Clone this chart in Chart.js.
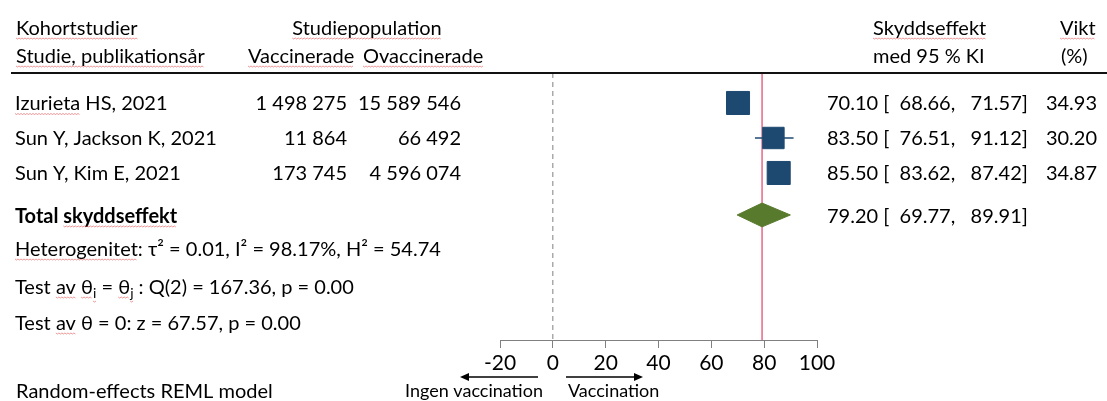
<!DOCTYPE html>
<html>
<head>
<meta charset="utf-8">
<script src="https://cdn.jsdelivr.net/npm/chart.js@4"></script>
<style>
  html, body { margin: 0; padding: 0; background: #fff; }
  #wrap { width: 1107px; height: 401px; }
</style>
</head>
<body>
<div id="wrap"><canvas id="forest" width="1107" height="401"></canvas></div>
<script>
// Data
const studies = ['Izurieta HS, 2021', 'Sun Y, Jackson K, 2021', 'Sun Y, Kim E, 2021'];
const vaccinated = ['1 498 275', '11 864', '173 745'];
const unvaccinated = ['15 589 546', '66 492', '4 596 074'];
const effect = [70.10, 83.50, 85.50];
const ciLow = [68.66, 76.51, 83.62];
const ciHigh = [71.57, 91.12, 87.42];
const weight = [34.93, 30.20, 34.87];
const totalEffect = 79.20;
const totalLow = 69.77;
const totalHigh = 89.91;
const xTicks = [-20, 0, 20, 40, 60, 80, 100];

// Row positions on the y scale (top = 0, reversed)
const rowY = [1, 2, 3];
const totalY = 4.2;
const yMin = 0.143;
const yMax = 7.773;

const FONT = 'Lato, "Open Sans", sans-serif';
const NAVY = '#1d4971';
const GREEN = '#587a2c';
const RED = '#e2436a';

const fmt = v => v.toFixed(2);

// Small helpers for the text columns
function squiggle(ctx, x1, x2, y) {
  ctx.save();
  ctx.strokeStyle = 'rgba(225,70,70,0.7)';
  ctx.lineWidth = 0.8;
  ctx.beginPath();
  let i = 0;
  for (let x = x1; x <= x2; x += 1.5, i++) {
    const yy = y + (i % 2 ? 1 : 0);
    if (i === 0) ctx.moveTo(x, yy); else ctx.lineTo(x, yy);
  }
  ctx.stroke();
  ctx.restore();
}

function drawText(ctx, text, x, y, opts = {}) {
  ctx.font = opts.font || `20px ${FONT}`;
  ctx.fillStyle = '#000';
  ctx.textBaseline = 'alphabetic';
  const w = ctx.measureText(text).width;
  let x0 = x;
  if (opts.align === 'right') x0 = x - w;
  if (opts.align === 'center') x0 = x - w / 2;
  ctx.textAlign = 'left';
  ctx.fillText(text, x0, y);
  (opts.marks || []).forEach(m => {
    const idx = text.indexOf(m);
    if (idx < 0) return;
    const mx = x0 + ctx.measureText(text.slice(0, idx)).width;
    squiggle(ctx, mx, mx + ctx.measureText(m).width, y + 3);
  });
}

function drawRich(ctx, segs, x, y) {
  let cx = x;
  segs.forEach(sg => {
    ctx.font = sg.sub ? `14px ${FONT}` : `20px ${FONT}`;
    ctx.fillStyle = '#000';
    ctx.textAlign = 'left';
    ctx.textBaseline = 'alphabetic';
    const dy = sg.sub ? 4 : 0;
    ctx.fillText(sg.t, cx, y + dy);
    const w = ctx.measureText(sg.t).width;
    if (sg.mark) squiggle(ctx, cx, cx + w, y + 3 + dy);
    cx += w;
  });
}

function arrow(ctx, x1, x2, y) {
  const dir = Math.sign(x2 - x1);
  ctx.save();
  ctx.strokeStyle = '#000';
  ctx.fillStyle = '#000';
  ctx.lineWidth = 1.5;
  ctx.beginPath();
  ctx.moveTo(x1, y);
  ctx.lineTo(x2 - dir * 6, y);
  ctx.stroke();
  ctx.beginPath();
  ctx.moveTo(x2, y);
  ctx.lineTo(x2 - dir * 9, y - 4);
  ctx.lineTo(x2 - dir * 9, y + 4);
  ctx.closePath();
  ctx.fill();
  ctx.restore();
}

const textPlugin = {
  id: 'forestText',
  afterDraw(chart) {
    const ctx = chart.ctx;
    const ys = chart.scales.y;

    // Header
    drawText(ctx, 'Kohortstudier', 16, 35, { marks: ['Kohortstudier'] });
    drawText(ctx, 'Studiepopulation', 367, 35, { align: 'center', marks: ['Studiepopulation'] });
    drawText(ctx, 'Studie, publikationsår', 16, 63, { marks: ['Studie, publikationsår'] });
    drawText(ctx, 'Vaccinerade', 248, 63, { marks: ['Vaccinerade'] });
    drawText(ctx, 'Ovaccinerade', 363, 63, { marks: ['Ovaccinerade'] });
    drawText(ctx, 'Skyddseffekt', 873, 35, { marks: ['Skyddseffekt'] });
    drawText(ctx, 'med 95 % KI', 873, 63);
    drawText(ctx, 'Vikt', 1060, 35, { marks: ['Vikt'] });
    drawText(ctx, '(%)', 1061, 63);

    ctx.save();
    ctx.strokeStyle = '#111';
    ctx.lineWidth = 2;
    ctx.beginPath();
    ctx.moveTo(11, 73);
    ctx.lineTo(1107, 73);
    ctx.stroke();
    ctx.restore();

    // Study rows
    studies.forEach((s, i) => {
      const y = ys.getPixelForValue(rowY[i]) + 7.5;
      drawText(ctx, s, 15, y, { marks: i === 0 ? ['Izurieta'] : [] });
      drawText(ctx, vaccinated[i], 347, y, { align: 'right' });
      drawText(ctx, unvaccinated[i], 461, y, { align: 'right' });
      drawText(ctx, `${fmt(effect[i])} [  ${fmt(ciLow[i])},   ${fmt(ciHigh[i])}]`, 827, y);
      drawText(ctx, fmt(weight[i]), 1097, y, { align: 'right' });
    });

    const ty = ys.getPixelForValue(totalY) + 8;
    drawText(ctx, 'Total skyddseffekt', 15, ty, { font: `bold 20px ${FONT}`, marks: ['skyddseffekt'] });
    drawText(ctx, `${fmt(totalEffect)} [  ${fmt(totalLow)},   ${fmt(totalHigh)}]`, 827, ty);

    // Statistics
    drawText(ctx, 'Heterogenitet: τ² = 0.01, I² = 98.17%, H² = 54.74', 15, 256, { marks: ['Heterogenitet'] });
    drawRich(ctx, [
      { t: 'Test ' }, { t: 'av', mark: true }, { t: ' ' }, { t: 'θ', mark: true }, { t: 'i', sub: true, mark: true },
      { t: ' = ' }, { t: 'θ', mark: true }, { t: 'j', sub: true, mark: true }, { t: ' : Q(2) = 167.36, p = 0.00' }
    ], 15, 294);
    drawRich(ctx, [{ t: 'Test ' }, { t: 'av', mark: true }, { t: ' θ = 0: z = 67.57, p = 0.00' }], 15, 330);
    drawText(ctx, 'Random-effects REML model', 16, 398);

    // Direction arrows
    arrow(ctx, 538, 460, 377);
    arrow(ctx, 566, 643, 377);
    drawText(ctx, 'Ingen vaccination', 474, 397, { align: 'center', font: `18px ${FONT}` });
    drawText(ctx, 'Vaccination', 568, 397, { font: `18px ${FONT}` });
  }
};

const maxW = Math.max(...weight);

const datasets = [
  {
    type: 'scatter',
    data: effect.map((e, i) => ({ x: e, y: rowY[i] })),
    pointStyle: 'rect',
    pointRadius: weight.map(w => 16.3 * Math.sqrt(w / maxW)),
    backgroundColor: NAVY,
    borderColor: NAVY,
    borderWidth: 1
  },
  {
    type: 'line',
    data: [
      { x: totalLow, y: totalY },
      { x: totalEffect, y: totalY - 0.34 },
      { x: totalHigh, y: totalY },
      { x: totalEffect, y: totalY + 0.34 },
      { x: totalLow, y: totalY }
    ],
    borderColor: GREEN,
    backgroundColor: GREEN,
    borderWidth: 1,
    fill: 'shape',
    pointRadius: 0,
    tension: 0
  },
  ...studies.map((s, i) => ({
    type: 'line',
    data: [{ x: ciLow[i], y: rowY[i] }, { x: ciHigh[i], y: rowY[i] }],
    borderColor: NAVY,
    borderWidth: 1.5,
    pointRadius: 0
  })),
  {
    type: 'line',
    data: [{ x: totalEffect, y: yMin }, { x: totalEffect, y: yMax }],
    borderColor: RED,
    borderWidth: 1.2,
    pointRadius: 0
  },
  {
    type: 'line',
    data: [{ x: 0, y: yMin }, { x: 0, y: yMax }],
    borderColor: '#808080',
    borderWidth: 1,
    borderDash: [5, 4],
    pointRadius: 0
  }
];

new Chart(document.getElementById('forest'), {
  type: 'scatter',
  data: { datasets },
  options: {
    responsive: false,
    animation: false,
    layout: { padding: { left: 500, right: 290, top: 73, bottom: 0 } },
    plugins: { legend: { display: false }, tooltip: { enabled: false } },
    scales: {
      x: {
        type: 'linear',
        min: -20,
        max: 100,
        afterBuildTicks: s => { s.ticks = xTicks.map(v => ({ value: v })); },
        afterFit: s => { s.height = 61; },
        grid: { drawOnChartArea: false, drawTicks: true, tickLength: 8, color: '#808080' },
        border: { display: true, color: '#808080' },
        ticks: { font: { family: FONT, size: 21 }, color: '#000', padding: 3, maxRotation: 0, autoSkip: false }
      },
      y: { type: 'linear', display: false, reverse: true, min: yMin, max: yMax }
    }
  },
  plugins: [textPlugin]
});
</script>
</body>
</html>
